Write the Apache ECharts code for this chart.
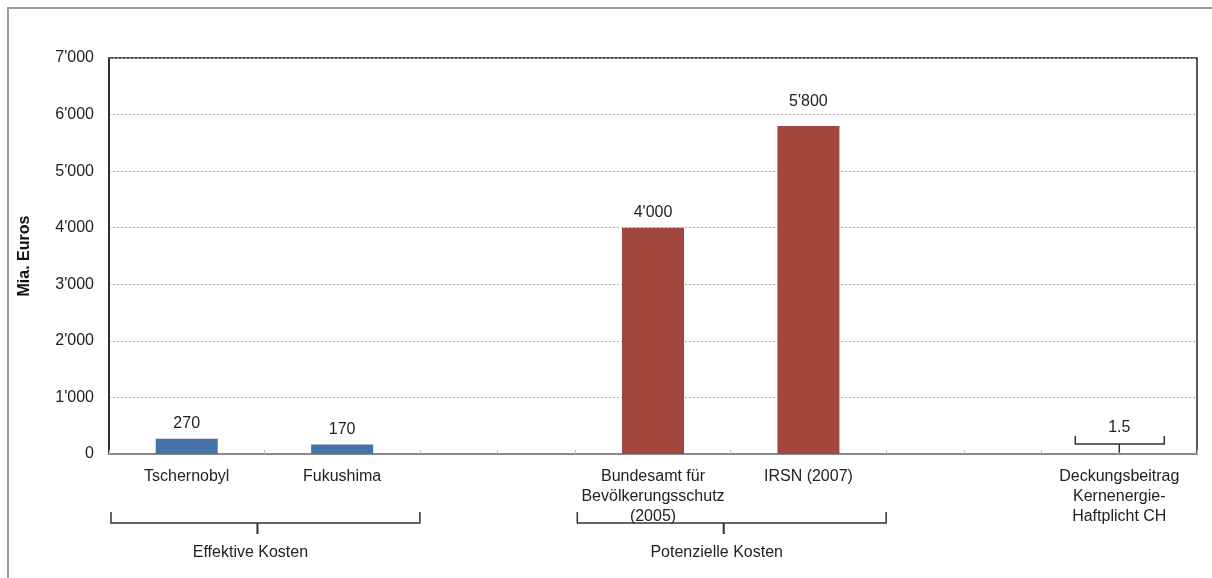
<!DOCTYPE html>
<html><head><meta charset="utf-8">
<script src="https://cdn.jsdelivr.net/npm/echarts@6/dist/echarts.min.js"></script>
<style>html,body{margin:0;padding:0;background:#fff}#c{width:1212px;height:578px}</style>
</head><body><div id="c"></div>
<script>
// ---- data ----
const categories = ['Tschernobyl', 'Fukushima', '', 'Bundesamt für\nBevölkerungsschutz\n(2005)', 'IRSN (2007)', '', 'Deckungsbeitrag\nKernenergie-\nHaftplicht CH'];
const values = [270, 170, null, 4000, 5800, null, 1.5];
const groupOf = ['eff', 'eff', null, 'pot', 'pot', null, 'ch'];
const groupNames = ['Effektive Kosten', 'Potenzielle Kosten'];
const groupFrom = [0, 3];
const groupTo = [1, 4];
const yMin = 0, yMax = 7000, yStep = 1000;
const yTitle = 'Mia. Euros';

// ---- styles ----
const FONT = "'Liberation Sans', Arial, sans-serif";
const colors = { eff: '#4572A7', ch: '#4572A7', pot: '#A3483F' };
const fmt = v => {
  if (v == null) return '';
  if (Math.abs(v) >= 1000) return String(Math.round(v)).replace(/\B(?=(\d{3})+(?!\d))/g, "'");
  return String(v);
};

const chart = echarts.init(document.getElementById('c'), null, { renderer: 'canvas' });

const seriesData = values.map((v, i) => ({
  value: v,
  itemStyle: { color: colors[groupOf[i]] || '#4572A7' },
  label: { distance: groupOf[i] === 'ch' ? 18 : (v > 5000 ? 16 : 7) }
}));

chart.setOption({
  animation: false,
  textStyle: { fontFamily: FONT },
  grid: { left: 109, right: 15, top: 58, bottom: 124, show: true, borderColor: '#222', borderWidth: 1.5, containLabel: false },
  xAxis: [{
    type: 'category', data: categories, boundaryGap: true,
    axisLine: { show: true, lineStyle: { color: '#8a8a8a', width: 2 } },
    axisTick: { show: true, inside: true, length: 4, lineStyle: { color: '#bbb', width: 1 } },
    axisLabel: { color: '#222', fontSize: 16, lineHeight: 20, margin: 13, interval: 0, fontFamily: FONT },
    splitLine: { show: false }
  }, {
    type: 'category', data: categories, boundaryGap: true, position: 'bottom',
    axisLine: { show: false },
    axisTick: { show: true, inside: true, alignWithLabel: true, length: 4, lineStyle: { color: '#bbb', width: 1 } },
    axisLabel: { show: false }
  }],
  yAxis: {
    type: 'value', min: yMin, max: yMax, interval: yStep,
    name: yTitle, nameLocation: 'middle', nameGap: 76,
    nameTextStyle: { fontSize: 16, fontWeight: 'bold', color: '#111', fontFamily: FONT },
    axisLine: { show: true, lineStyle: { color: '#222', width: 1.5 } },
    axisTick: { show: false },
    axisLabel: { color: '#222', fontSize: 16, margin: 15, formatter: fmt, fontFamily: FONT },
    splitLine: { show: true, lineStyle: { color: '#b0b0b0', type: [2, 2], width: 1 } }
  },
  series: [{
    type: 'bar', xAxisIndex: 0, yAxisIndex: 0,
    data: seriesData, barWidth: 62,
    label: { show: true, position: 'top', color: '#222', fontSize: 16, fontFamily: FONT,
      formatter: p => fmt(p.value) }
  }]
});

// ---- annotations computed from axis scale ----
function drawAnnotations() {
  const cx = i => chart.convertToPixel({ xAxisIndex: 0 }, i);
  const half = (cx(1) - cx(0)) / 2;
  const y0 = chart.convertToPixel({ yAxisIndex: 0 }, 0);
  const stroke = { stroke: '#333', lineWidth: 1.5, fill: null };
  const els = [];
  // outer frame
  els.push({ type: 'rect', shape: { x: 8, y: 8, width: 1300, height: 700 }, style: { stroke: '#9a9a9a', lineWidth: 2, fill: null }, silent: true, z: 0 });
  // group brackets
  groupNames.forEach((name, g) => {
    const x1 = cx(groupFrom[g]) - half + 2;
    const x2 = cx(groupTo[g]) + half;
    const xm = (x1 + x2) / 2 - 8;
    const yb = y0 + 69;
    els.push({ type: 'polyline', shape: { points: [[x1, yb - 11], [x1, yb], [x2, yb], [x2, yb - 11]] }, style: stroke, z: 10 });
    els.push({ type: 'line', shape: { x1: xm, y1: yb, x2: xm, y2: yb + 11 }, style: { stroke: '#333', lineWidth: 2 }, z: 10 });
    els.push({ type: 'text', x: xm - 7, y: y0 + 99, style: { text: name, font: '16px ' + FONT, fill: '#222', textAlign: 'center', textVerticalAlign: 'middle' }, z: 10 });
  });
  // bracket over tiny value
  values.forEach((v, i) => {
    if (groupOf[i] !== 'ch') return;
    const x = cx(i);
    const yv = chart.convertToPixel({ yAxisIndex: 0 }, v);
    const yb = yv - 10;
    els.push({ type: 'polyline', shape: { points: [[x - 44, yb - 8], [x - 44, yb], [x + 45, yb], [x + 45, yb - 8]] }, style: stroke, z: 10 });
    els.push({ type: 'line', shape: { x1: x, y1: yb, x2: x, y2: yv - 1 }, style: { stroke: '#333', lineWidth: 1.5 }, z: 10 });
  });
  chart.setOption({ graphic: { elements: els } });
}
drawAnnotations();
</script>
</body></html>
